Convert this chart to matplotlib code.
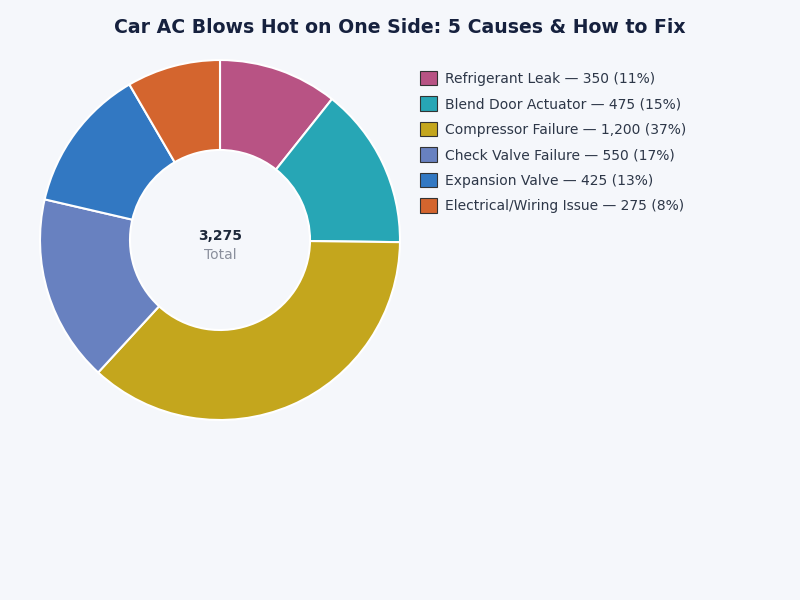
import matplotlib.pyplot as plt
from matplotlib.patches import Patch

# causes and counts
causes = ['Refrigerant Leak', 'Blend Door Actuator', 'Compressor Failure',
          'Check Valve Failure', 'Expansion Valve', 'Electrical/Wiring Issue']
counts = [350, 475, 1200, 550, 425, 275]
colors = ['#b85384', '#27a6b5', '#c4a61d', '#6881c0', '#3278c2', '#d4652e']

bg = '#f5f7fb'
total = sum(counts)

fig = plt.figure(figsize=(8, 6), dpi=100, facecolor=bg)
ax = fig.add_axes([0.05, 0.3, 0.45, 0.6])
ax.set_facecolor(bg)

ax.pie(counts, colors=colors, startangle=90, counterclock=False,
       radius=1.0, wedgeprops=dict(width=0.5, edgecolor='white', linewidth=1.5))
ax.set_xlim(-1, 1)
ax.set_ylim(-1, 1)
ax.set_aspect('equal')
ax.axis('off')

# center text
ax.text(0, 0.025, f'{total:,}', ha='center', va='center', fontsize=10,
        fontweight='bold', color='#1e293b')
ax.text(0, -0.083, 'Total', ha='center', va='center', fontsize=10, color='#8a8f9c')

fig.suptitle('Car AC Blows Hot on One Side: 5 Causes & How to Fix',
             y=0.97, fontsize=13.6, fontweight='bold', color='#16213e')

handles = []
for c, n, col in zip(causes, counts, colors):
    pct = round(n / total * 100)
    handles.append(Patch(facecolor=col, edgecolor='#333333', linewidth=0.8,
                         label=f'{c} — {n:,} ({pct}%)'))

leg = fig.legend(handles=handles, loc='upper left', bbox_to_anchor=(0.525, 0.882),
                 frameon=False, fontsize=10, handlelength=1.25, handleheight=1.25,
                 labelspacing=0.75, handletextpad=0.55, borderaxespad=0,
                 borderpad=0)
for t in leg.get_texts():
    t.set_color('#2d3748')

fig.savefig('out.png', dpi=100, facecolor=bg)
